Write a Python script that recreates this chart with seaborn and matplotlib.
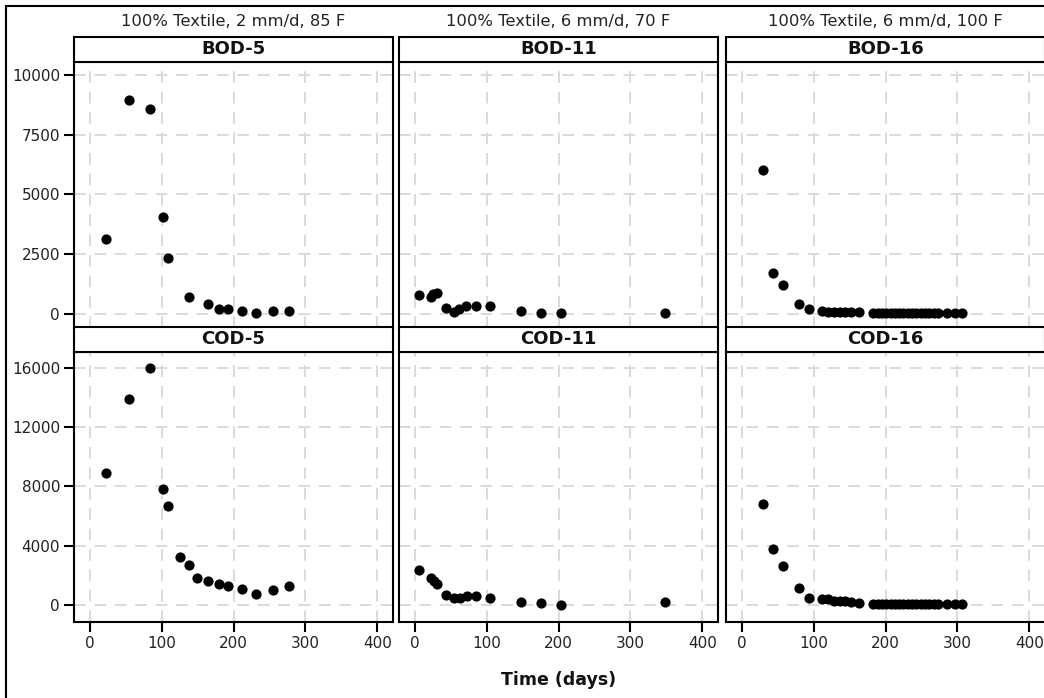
import matplotlib
matplotlib.use("Agg")
import matplotlib.pyplot as plt
from matplotlib.patches import Rectangle
import pandas as pd
import seaborn as sns

SITES = ["5", "11", "16"]
PARAMS = ["BOD", "COD"]
COL_TITLES = [
    "100% Textile, 2 mm/d, 85 F",
    "100% Textile, 6 mm/d, 70 F",
    "100% Textile, 6 mm/d, 100 F",
]

# site 5
BOD5_T = [23, 54, 84, 102, 109, 138, 165, 180, 193, 212, 231, 255, 277]
BOD5_Y = [3150, 8950, 8550, 4050, 2330, 720, 400, 210, 210, 130, 40, 130, 130]
COD5_T = [23, 54, 84, 102, 109, 125, 138, 149, 165, 180, 193, 212, 231, 255, 277]
COD5_Y = [8900, 13900, 16000, 7850, 6650, 3250, 2700, 1800, 1650, 1400, 1250, 1100, 750, 1000, 1250]

# site 11
BOD11_T = [6, 22, 25, 31, 44, 55, 62, 71, 85, 105, 148, 176, 203, 348]
BOD11_Y = [790, 700, 850, 880, 240, 100, 200, 330, 330, 320, 130, 50, 40, 40]
COD11_T = [6, 22, 27, 31, 44, 55, 63, 72, 85, 105, 148, 176, 203, 348]
COD11_Y = [2360, 1850, 1600, 1400, 650, 500, 500, 630, 630, 500, 230, 110, 0, 230]

# site 16
SITE16_T = [30, 44, 58, 79, 93, 112, 120, 128, 136, 144, 152, 163,
            183, 189, 195, 201, 207, 213, 219, 225, 231, 237, 243, 249, 255, 261, 267, 273,
            285, 297, 306]
BOD16_Y = [6000, 1700, 1200, 420, 190, 130, 90, 80, 80, 80, 70, 70,
           60, 50, 60, 50, 60, 60, 50, 60, 60, 50, 60, 60, 50, 60, 60, 50,
           60, 60, 60]
COD16_Y = [6800, 3750, 2600, 1170, 490, 400, 380, 270, 260, 250, 230, 120,
           80, 80, 90, 80, 80, 90, 80, 80, 90, 80, 80, 90, 80, 80, 90, 80,
           90, 80, 90]

X_TICKS = [0, 100, 200, 300, 400]
Y_TICKS = {"BOD": [0, 2500, 5000, 7500, 10000], "COD": [0, 4000, 8000, 12000, 16000]}
Y_LIMS = {"BOD": (-585, 10535), "COD": (-1150, 17070)}
X_LIM = (-22, 422)


def build_frame():
    parts = [
        ("BOD", "5", BOD5_T, BOD5_Y),
        ("COD", "5", COD5_T, COD5_Y),
        ("BOD", "11", BOD11_T, BOD11_Y),
        ("COD", "11", COD11_T, COD11_Y),
        ("BOD", "16", SITE16_T, BOD16_Y),
        ("COD", "16", SITE16_T, COD16_Y),
    ]
    frames = [pd.DataFrame({"param": p, "site": s, "time": t, "value": y}) for p, s, t, y in parts]
    return pd.concat(frames, ignore_index=True)


def main():
    df = build_frame()
    sns.set_theme(style="white")
    plt.rcParams["font.family"] = ["DejaVu Sans"]

    g = sns.FacetGrid(df, row="param", col="site", row_order=PARAMS, col_order=SITES,
                      sharex=True, sharey="row", despine=False, height=3, aspect=1.1)
    g.map_dataframe(sns.scatterplot, x="time", y="value", color="black", s=54, linewidth=0)
    g.set_titles("")
    g.set_axis_labels("", "")

    fig = g.figure
    W, H = 1044, 698
    fig.set_size_inches(W / 100, H / 100)

    col_left = [74, 399, 726]
    col_w = 319
    row_top = [62, 352]
    row_h = [266, 270]
    strip_px = 25

    for i, param in enumerate(PARAMS):
        for j, site in enumerate(SITES):
            ax = g.axes[i, j]
            ax.set_position([col_left[j] / W, 1 - (row_top[i] + row_h[i]) / H, col_w / W, row_h[i] / H])
            ax.set_xlim(*X_LIM)
            ax.set_ylim(*Y_LIMS[param])
            ax.set_xticks(X_TICKS)
            ax.set_yticks(Y_TICKS[param])
            ax.set_xlabel("")
            ax.set_ylabel("")
            ax.grid(True, color="#dadada", linestyle=(0, (6, 4.5)), linewidth=1.4)
            ax.set_axisbelow(True)
            for sp in ax.spines.values():
                sp.set_color("black")
                sp.set_linewidth(1.5)
            ax.tick_params(direction="out", length=7, width=1.5, color="black",
                           labelsize=11, labelcolor="#222222", pad=3,
                           left=(j == 0), bottom=(i == 1),
                           labelleft=(j == 0), labelbottom=(i == 1))

            pos = ax.get_position()
            sh = strip_px / H
            fig.add_artist(Rectangle((pos.x0, pos.y1), pos.width, sh, transform=fig.transFigure,
                                     facecolor="white", edgecolor="black", linewidth=1.5))
            fig.text(pos.x0 + pos.width / 2, pos.y1 + sh / 2, f"{param}-{site}",
                     ha="center", va="center", fontsize=13, fontweight="bold", color="#111111")

            if i == 0:
                fig.text(pos.x0 + pos.width / 2, 1 - 22 / H, COL_TITLES[j],
                         ha="center", va="center", fontsize=11.8, color="#222222")

    mid = g.axes[1, 1].get_position()
    fig.text(mid.x0 + mid.width / 2, 1 - 680 / H, "Time (days)",
             ha="center", va="center", fontsize=12.5, fontweight="bold", color="#111111")

    # outer frame, cut by the image edge on right and bottom
    fig.add_artist(Rectangle((6 / W, -0.1), 1.2, 1.1 - 6 / H, transform=fig.transFigure,
                             fill=False, edgecolor="black", linewidth=1.5))

    fig.savefig("out.png", dpi=100, facecolor="white")
    plt.close(fig)


if __name__ == "__main__":
    main()
